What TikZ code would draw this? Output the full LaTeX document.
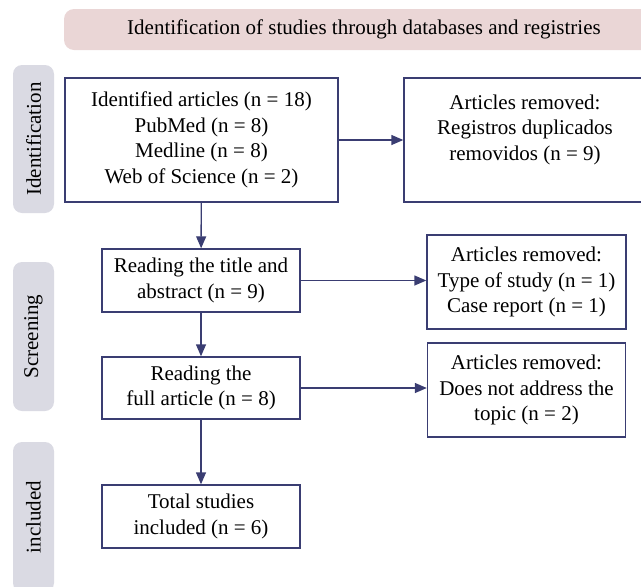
\documentclass[tikz,border=0pt]{standalone}
\usepackage{fontspec}
\setmainfont{Liberation Serif}
\usepackage{xcolor}
\usepackage{tikz}
\usetikzlibrary{arrows.meta}

\definecolor{boxline}{HTML}{3A3D72}
\definecolor{titlefill}{HTML}{EAD6D6}
\definecolor{phasefill}{HTML}{DADAE3}

\begin{document}
\begin{tikzpicture}[x=1pt, y=-1pt,
    every node/.style={font=\fontsize{21}{25.5}\selectfont, inner sep=0pt},
    flowbox/.style={rectangle, draw=boxline, line width=1.4pt, fill=white, align=center},
    phase/.style={rectangle, rounded corners=9pt, fill=phasefill, rotate=90, minimum height=41pt},
    flow/.style={-{Triangle[length=12pt, width=10pt]}, draw=boxline, fill=boxline, line width=1.4pt}]
    \clip (0,0) rectangle (641,587);

    % header and phase labels
    \node[rectangle, rounded corners=10pt, fill=titlefill, minimum width=600pt, minimum height=41pt] (header) at (364, 29.5) {Identification of studies through databases and registries};
    \node[phase, minimum width=148pt] (identification) at (33.5, 139) {Identification};
    \node[phase, minimum width=149pt] (screening) at (33.5, 336.5) {Screening};
    \node[phase, minimum width=150pt] (included) at (33.5, 517) {included};

    % main column
    \node[flowbox, minimum width=273pt, minimum height=124pt] (identified) at (201.5, 140) {Identified articles (n = 18)\\ PubMed (n = 8)\\ Medline (n = 8)\\ Web of Science (n = 2)};
    \node[flowbox, minimum width=198pt, minimum height=63pt] (titleabs) at (201, 280.5) {Reading the title and\\ abstract (n = 9)};
    \node[flowbox, minimum width=198pt, minimum height=62pt] (fulltext) at (201, 388) {Reading the\\ full article (n = 8)};
    \node[flowbox, minimum width=198pt, minimum height=63pt] (total) at (201, 516.5) {Total studies\\ included (n = 6)};

    % removed articles
    \node[flowbox, minimum width=242pt, minimum height=124pt] (removed1) at (525, 140) {Articles removed:\\ Registros duplicados\\ removidos (n = 9)\\ ~};
    \node[flowbox, minimum width=199pt, minimum height=94pt] (removed2) at (526.5, 282) {Articles removed:\\ Type of study (n = 1)\\ Case report (n = 1)};
    \node[flowbox, minimum width=198pt, minimum height=94pt] (removed3) at (526.5, 390) {Articles removed:\\ Does not address the\\ topic (n = 2)};

    \draw[flow] (identified) -- (removed1);
    \draw[flow] (titleabs.east) -- (titleabs.east -| removed2.west);
    \draw[flow] (fulltext.east) -- (fulltext.east -| removed3.west);
    \draw[flow] (identified) -- (titleabs);
    \draw[flow] (titleabs) -- (fulltext);
    \draw[flow] (fulltext) -- (total);
\end{tikzpicture}
\end{document}
